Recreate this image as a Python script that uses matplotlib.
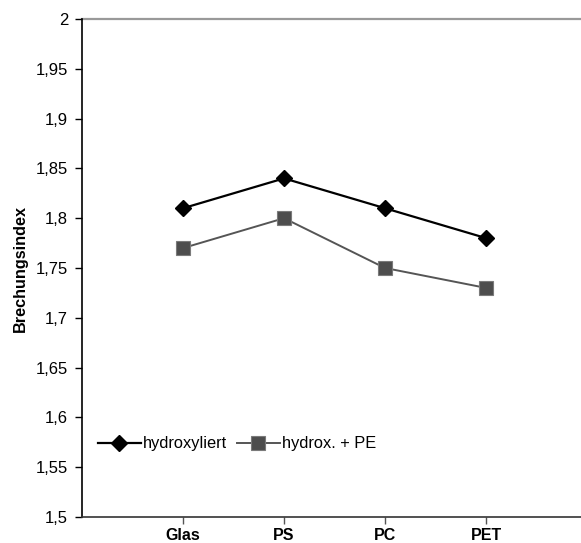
import matplotlib
matplotlib.use("Agg")
import matplotlib.pyplot as plt
from matplotlib.ticker import FixedLocator, FuncFormatter

plt.rcParams['font.family'] = ['Liberation Sans', 'DejaVu Sans']

categories = ["Glas", "PS", "PC", "PET"]
hydroxyliert = [1.81, 1.84, 1.81, 1.78]
hydrox_pe = [1.77, 1.80, 1.75, 1.73]
y_ticks = [1.5, 1.55, 1.6, 1.65, 1.7, 1.75, 1.8, 1.85, 1.9, 1.95, 2.0]

fig = plt.figure(figsize=(5.81, 5.43), dpi=100)
ax = fig.add_axes([82 / 581, 1 - 517 / 543, 1 - 82 / 581, (517 - 19) / 543])

x = list(range(1, len(categories) + 1))
ax.plot(x, hydroxyliert, color="black", lw=1.6, marker="D", ms=8,
        mfc="black", mec="black", label="hydroxyliert", zorder=3)
ax.plot(x, hydrox_pe, color="#555555", lw=1.4, marker="s", ms=9.5,
        mfc="#4d4d4d", mec="#7a7a7a", mew=0.8, label="hydrox. + PE", zorder=3)

ax.set_xlim(0, 4.94)
ax.set_ylim(1.5, 2.0)
ax.axhline(2.0, color="#999999", lw=1.6, zorder=1, clip_on=False)

ax.set_xticks(x)
ax.set_xticklabels(categories, fontsize=11.5, fontweight="bold")
ax.yaxis.set_major_locator(FixedLocator(y_ticks))
ax.yaxis.set_major_formatter(FuncFormatter(lambda v, p: f"{v:g}".replace(".", ",")))
ax.tick_params(axis="y", labelsize=12, length=5, width=1, pad=5, colors="black")
ax.tick_params(axis="x", length=5, width=1, pad=3, colors="#555555", labelcolor="black")

for s in ("top", "right"):
    ax.spines[s].set_visible(False)
ax.spines["left"].set_linewidth(1.2)
ax.spines["bottom"].set_linewidth(1.2)
ax.spines["bottom"].set_color("#333333")

ax.set_ylabel("Brechungsindex", fontsize=11.7, fontweight="bold", labelpad=6)

leg = ax.legend(loc="center left", bbox_to_anchor=(0.032, 0.147), ncol=2, frameon=False,
                fontsize=11.8, handlelength=2.6, handletextpad=0.15, columnspacing=0.6,
                borderaxespad=0.0, borderpad=0.0)

fig.savefig("out.png", dpi=100)
